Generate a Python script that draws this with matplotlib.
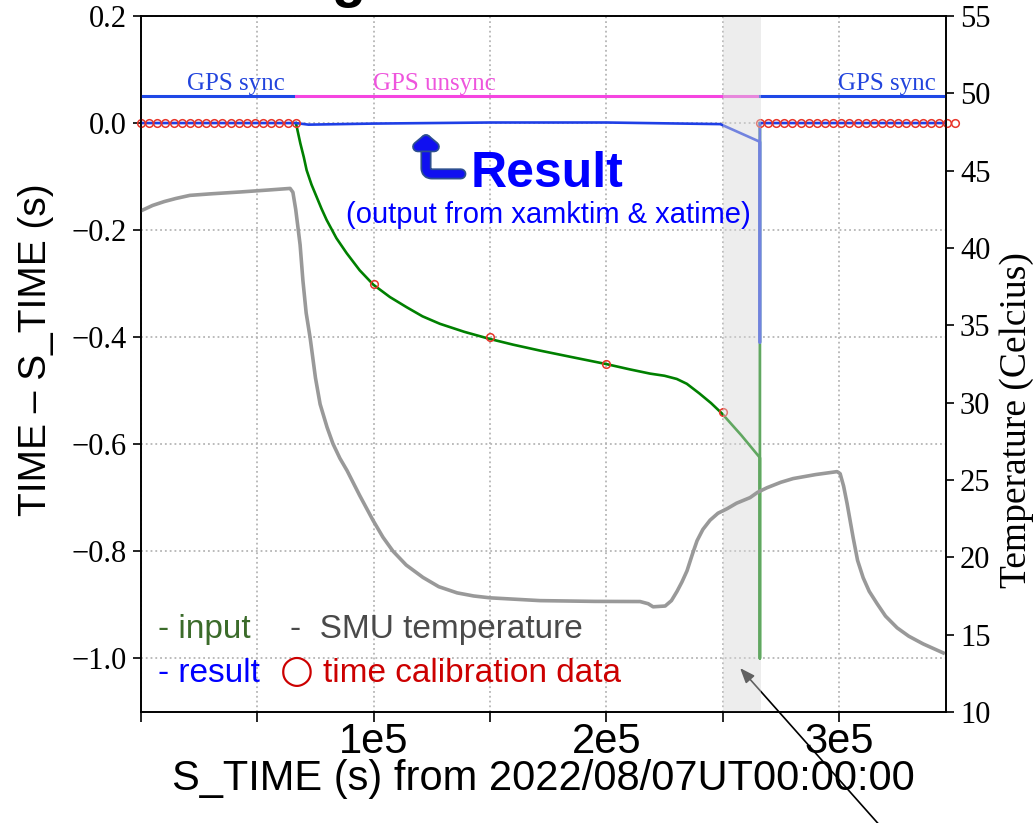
import numpy as np
import matplotlib
matplotlib.use('Agg')
import matplotlib.pyplot as plt
import matplotlib.patheffects as pe

plt.rcParams['font.family'] = ['Liberation Sans', 'DejaVu Sans']

# ---- data (times in ks from 2022/08/07 00:00:00) ----
# SMU temperature (Celcius)
temp_t = [0.0, 5.0, 10.0, 15.0, 21.0, 30.0, 42.6, 55.0, 64.1, 65.3, 66.5, 67.5,
          68.4, 69.6, 71.0, 72.7, 75.0, 77.0, 80.0, 82.5, 85.5, 88.6, 94.0, 99.7,
          104.0, 108.3, 114.0, 121.2, 128.0, 135.9, 143.0, 150.0, 171.5, 195.0,
          214.5, 218.0, 220.1, 225.3, 228.0, 230.4, 232.5, 234.7, 237.0, 239.0,
          241.5, 244.6, 248.0, 251.9, 256.0, 261.8, 265.0, 269.1, 275.0, 280.3,
          290.0, 299.2, 300.5, 302.0, 303.5, 306.1, 308.0, 310.4, 313.0, 316.4,
          320.0, 325.0, 330.0, 336.2, 344.8]
temp_c = [42.4, 42.75, 43.0, 43.2, 43.4, 43.5, 43.62, 43.75, 43.85, 43.6, 42.5, 41.3,
          40.2, 37.9, 35.8, 34.2, 31.6, 29.9, 28.4, 27.35, 26.4, 25.6, 24.0, 22.4,
          21.3, 20.4, 19.5, 18.7, 18.1, 17.7, 17.5, 17.38, 17.2, 17.15,
          17.14, 17.0, 16.8, 16.85, 17.2, 17.8, 18.4, 19.13, 20.2, 21.07,
          21.8, 22.4, 22.85, 23.14, 23.5, 23.86, 24.2, 24.5, 24.85, 25.09,
          25.35, 25.54, 25.41, 24.6, 23.47, 21.27, 19.8, 18.68, 17.8, 17.0,
          16.2, 15.44, 14.9, 14.4, 13.82]

# input (TIME - S_TIME before correction)
input_t = [66.6, 67.5, 68.5, 70.0, 71.2, 73.3, 75.5, 77.6, 79.8, 84.0, 88.4, 94.0,
           99.9, 107.0, 114.2, 121.0, 128.5, 139.0, 149.7, 160.0, 171.5, 185.0,
           199.8, 210.0, 218.8, 225.0, 230.3, 234.6, 240.0, 245.0, 249.6, 258.0,
           266.0, 266.0, 266.0]
input_dt = [0.0, -0.018, -0.038, -0.064, -0.088, -0.115, -0.138, -0.160, -0.181,
            -0.215, -0.243, -0.275, -0.302, -0.325, -0.344, -0.361, -0.375, -0.390,
            -0.403, -0.414, -0.425, -0.437, -0.450, -0.460, -0.468, -0.472, -0.478,
            -0.487, -0.505, -0.523, -0.542, -0.583, -0.625, -1.0, 0.0]

# result (output from xamktim & xatime)
result_t = [0.0, 66.6, 72.0, 100.0, 150.0, 200.0, 249.0, 266.0, 266.0, 266.0, 346.0]
result_dt = [0.0, 0.0, -0.003, -0.001, 0.001, 0.001, -0.002, -0.035, -0.41, 0.0, 0.0]

# time calibration data
cal_t = [0.0, 3.5, 7.0, 10.5, 14.0, 17.5, 21.0, 24.5, 28.0, 31.5, 35.0, 38.5, 42.0,
         45.5, 49.0, 52.5, 56.0, 59.5, 63.0, 66.5,
         100.0, 150.0, 200.0, 250.0,
         266.0, 269.5, 273.0, 276.5, 280.0, 283.5, 287.0, 290.5, 294.0, 297.5,
         301.0, 304.5, 308.0, 311.5, 315.0, 318.5, 322.0, 325.5, 329.0, 332.5,
         336.0, 339.5, 343.0, 346.5, 350.0]
cal_dt = [0.0] * 20 + [-0.30, -0.40, -0.45, -0.54] + [0.0] * 25

# GPS status periods
gps_sync1 = [0.0, 66.6]
gps_unsync = [66.6, 266.0]
gps_sync2 = [266.0, 345.5]
gps_level = 0.05

gap_span = [250.0, 266.5]

ks = 1e3

fig = plt.figure(figsize=(10.35, 8.23), dpi=100)
ax = fig.add_axes([0.1362, 0.1349, 0.7778, 0.8457])
ax2 = ax.twinx()

# GPS status bar
ax.plot(np.array(gps_sync1) * ks, [gps_level] * 2, color='#1f48e6', lw=2.2, zorder=3)
ax.plot(np.array(gps_unsync) * ks, [gps_level] * 2, color='#f545e0', lw=2.2, zorder=3)
ax.plot(np.array(gps_sync2) * ks, [gps_level] * 2, color='#1f48e6', lw=2.2, zorder=3)
ax.text(41e3, 0.053, 'GPS sync', color='#2244dd', fontsize=18,
        family='Liberation Serif', ha='center', va='bottom')
ax.text(126e3, 0.053, 'GPS unsync', color='#ee55dd', fontsize=18,
        family='Liberation Serif', ha='center', va='bottom')
ax.text(341.5e3, 0.053, 'GPS sync', color='#2244dd', fontsize=18,
        family='Liberation Serif', ha='right', va='bottom')

# curves
ax.plot(np.array(input_t) * ks, input_dt, color='green', lw=1.9, zorder=4)
ax.plot(np.array(result_t) * ks, result_dt, color='#1f3fe6', lw=1.9, zorder=5)
ax.plot(np.array(cal_t) * ks, cal_dt, ls='none', marker='o', ms=5.5, mfc='none',
        mec='#e8352a', mew=1.1, zorder=6, clip_on=False)

# gap period
ax.axvspan(gap_span[0] * ks, gap_span[1] * ks, color='#d8d8d8', alpha=0.45,
           lw=0, zorder=7)

# temperature on right axis
ax2.plot(np.array(temp_t) * ks, temp_c, color='#999999', lw=2.6)
ax2.set_ylim(10, 55)
ax2.set_yticks(np.arange(10, 56, 5))
for lab in ax2.get_yticklabels():
    lab.set_family('Liberation Serif')
ax2.tick_params(axis='y', labelsize=22, width=1.2, length=6, pad=4)
ax2.set_ylabel('Temperature (Celcius)', family='Liberation Serif', fontsize=27,
               rotation=90, va='top')
ax2.yaxis.set_label_coords(1.066, 0.42)

# axes setup
ax.set_xlim(0, 346e3)
ax.set_ylim(-1.1, 0.2)
xt = np.arange(0, 346e3, 5e4)
ax.set_xticks(xt)
ax.set_xticklabels(['%de5' % (v / 1e5) if v % 1e5 == 0 and v > 0 else '' for v in xt])
yt = np.arange(-1.0, 0.21, 0.2)
ax.set_yticks(yt)
ax.set_yticklabels([('%.1f' % (v + 0.0)).replace('-0.0', '0.0').replace('-', '\u2212')
                    for v in yt], family='Liberation Serif')
ax.tick_params(axis='y', labelsize=22, width=1.2, length=6, pad=4)
ax.tick_params(axis='x', labelsize=30, width=1.2, length=7, pad=0)
ax.grid(True, ls=':', color='#b5b5b5', lw=1.3)
for sp in list(ax.spines.values()) + list(ax2.spines.values()):
    sp.set_linewidth(1.2)

ax.set_xlabel('S_TIME (s) from 2022/08/07UT00:00:00', fontsize=30, labelpad=-2)
ax.set_ylabel('TIME \u2013 S_TIME (s)', fontsize=28)
ax.yaxis.set_label_coords(-0.108, 0.52)

# "Result" annotation
ax.text(174.5e3, -0.12, 'Result', color='blue', fontsize=36, weight='bold',
        ha='center', va='baseline', zorder=8)
ax.text(175e3, -0.172, '(output from xamktim & xatime)', color='blue', fontsize=21,
        ha='center', va='center', zorder=8)
ax.annotate('', xy=(122.5e3, -0.022), xytext=(137.5e3, -0.095),
            arrowprops=dict(arrowstyle='-|>,head_width=0.6,head_length=0.5',
                            connectionstyle='angle,angleA=0,angleB=90,rad=6',
                            color='#1010f0', lw=5.5, shrinkA=0, shrinkB=0,
                            path_effects=[pe.withStroke(linewidth=8, foreground='#2d4f90')]),
            zorder=8)

# legend text
ax.text(0.021, 0.106, '- input', color='#3b6b2a', fontsize=24, transform=ax.transAxes)
ax.text(0.185, 0.106, '-  SMU temperature', color='#4a4a4a', fontsize=24,
        transform=ax.transAxes)
ax.text(0.021, 0.043, '- result', color='blue', fontsize=24, transform=ax.transAxes)
ax.text(0.173, 0.043, '\u25cb', color='#cc0000', fontsize=28, family='DejaVu Sans',
        transform=ax.transAxes)
ax.text(0.226, 0.043, 'time calibration data', color='#cc0000', fontsize=24,
        transform=ax.transAxes)

# pointer arrow into the gap
ax.annotate('', xy=(257.5e3, -1.018), xytext=(0.855, -0.01),
            textcoords='figure fraction', annotation_clip=False,
            arrowprops=dict(arrowstyle='-|>,head_width=0.35,head_length=0.9',
                            color='black', lw=1.2, shrinkA=0, shrinkB=0))

# cut-off title remnant
fig.text(0.337, 1.0045, 'g', fontsize=40, weight='bold', ha='center', va='baseline')

fig.savefig('out.png', dpi=100)
